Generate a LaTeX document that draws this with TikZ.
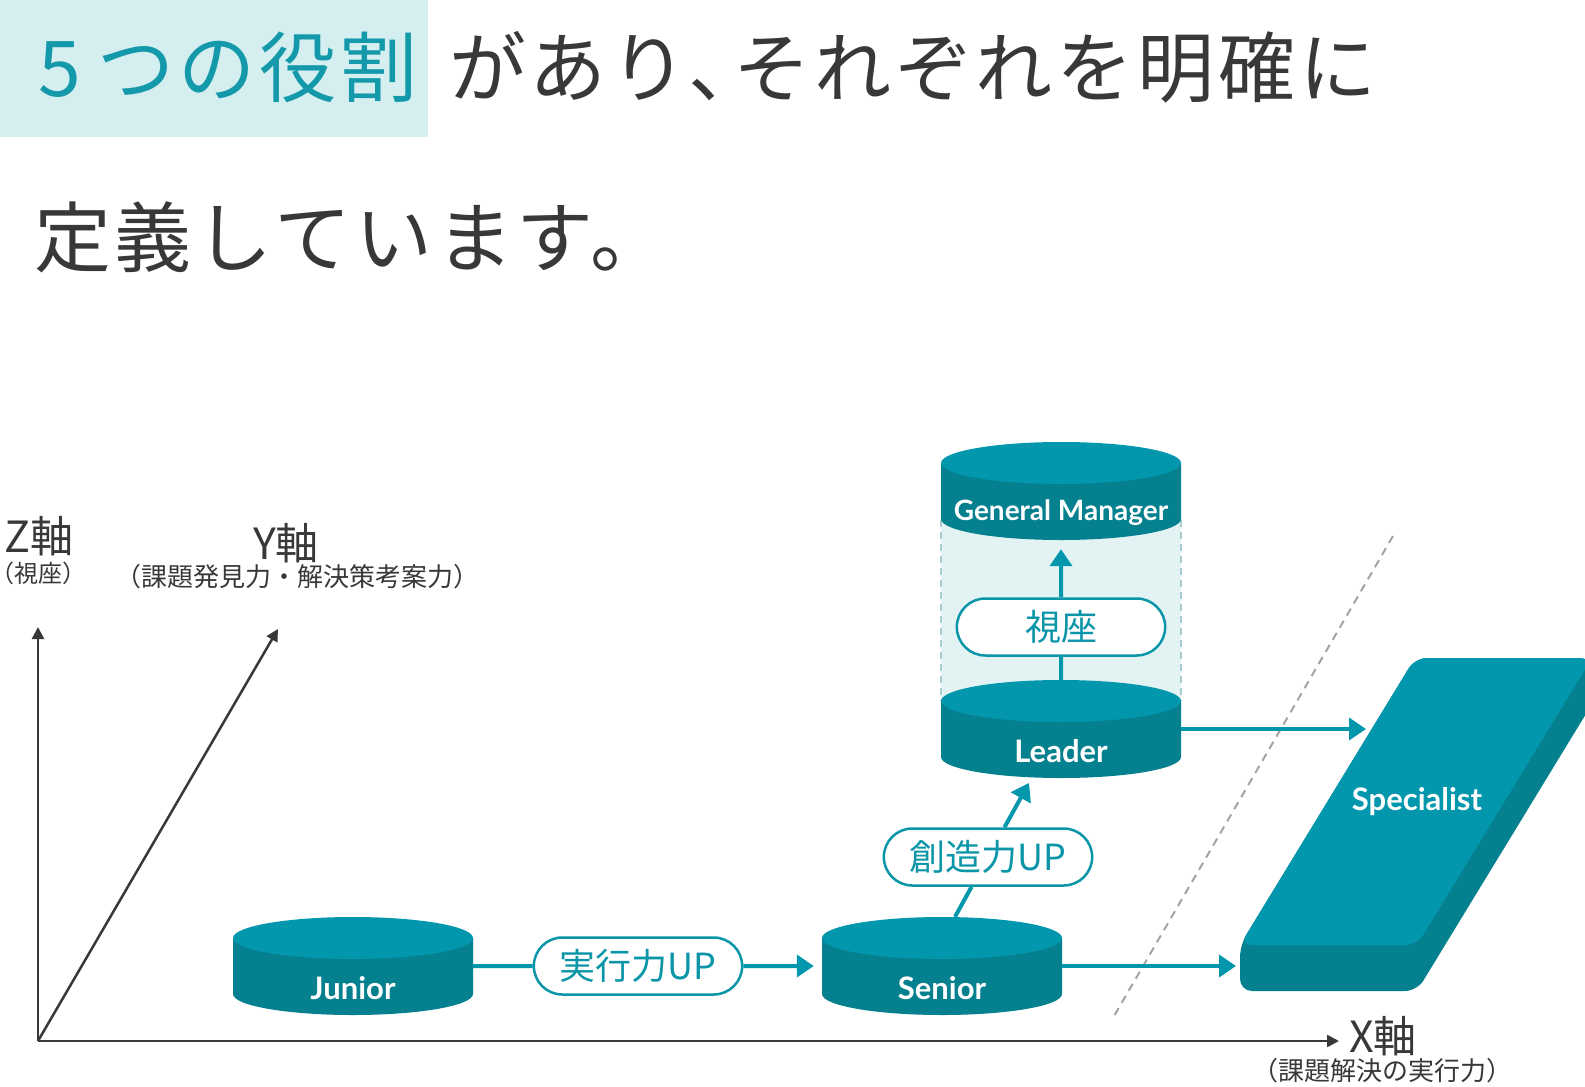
\documentclass[tikz,border=0pt]{standalone}
\usepackage{fontspec}
\setmainfont{Noto Sans CJK JP}
\newfontfamily\tierfont{Lato}
\newfontfamily\titlefont{Noto Sans CJK JP}[LetterSpace=5]
\usetikzlibrary{arrows.meta,shapes.misc,positioning}

\definecolor{tierTop}{HTML}{0397AD}
\definecolor{tierSide}{HTML}{04808F}
\definecolor{pillTeal}{HTML}{0A95A8}
\definecolor{titleTeal}{HTML}{1399AA}
\definecolor{inkGray}{HTML}{383838}
\definecolor{hiliteBg}{HTML}{D5EEF0}
\definecolor{columnBg}{HTML}{E3F3F4}
\definecolor{columnEdge}{HTML}{A8CDD1}
\definecolor{divGray}{HTML}{A3A3A3}

\tikzset{
	tiertop/.style={fill=tierTop},
	tierside/.style={fill=tierSide},
	tierbox/.style={minimum width=240pt, minimum height=98pt, inner sep=0pt},
	tierlabel/.style={text=white, inner sep=0pt, font=\tierfont\bfseries\fontsize{31}{31}\selectfont},
	pill/.style={rounded rectangle, draw=pillTeal, line width=2.5pt, fill=white, text=pillTeal,
		minimum width=215pt, minimum height=57pt, font=\fontsize{36}{36}\selectfont},
	flow/.style={draw=tierTop, line width=4pt, -{Triangle[length=17pt,width=22pt]}},
	axis/.style={draw=inkGray, line width=2.5pt, -{Triangle[length=12pt,width=12pt]}},
	axislabel/.style={text=inkGray, inner sep=0pt, font=\fontsize{43}{43}\selectfont},
	axisnote/.style={text=inkGray, inner sep=0pt, font=\fontsize{26}{26}\selectfont},
	titletext/.style={anchor=base west, inner sep=0pt, font=\titlefont\fontsize{77}{77}\selectfont},
}

% name, centre x, top y, label
\newcommand\drawtier[4]{%
	\fill[tierside] ({#2-120},#3) -- ({#2-120},{#3+56})
		arc[start angle=180, end angle=0, x radius=120, y radius=21] -- ({#2+120},#3) -- cycle;
	\fill[tiertop] (#2,#3) ellipse[x radius=120, y radius=21];
	\node[tierbox] (#1) at (#2,{#3+28}) {};
	\node[tierlabel] (#1-label) at (#2,{#3+50}) {#4};
}

\begin{document}
\begin{tikzpicture}[x=1pt, y=-1pt]
			\useasboundingbox (0,0) rectangle (1585,1087);
			\clip (0,0) rectangle (1585,1087);
			
			% Heading
			\fill[hiliteBg] (0,0) rectangle (428,137);
			\node[titletext, text=titleTeal] (title-lead) at (38,96) {5\hspace{0.22em}つの役割};
			\node[titletext, text=inkGray] (title-rest) at (449,96) {があり、\kern-0.42em それぞれを明確に};
			\node[titletext, text=inkGray] (title-second) at (34,266) {定義しています。};
			
			% Axes
			\coordinate (origin) at (38,1041);
			\coordinate (z-end) at (38,627);
			\coordinate (y-end) at (278,629);
			\coordinate (x-end) at (1339,1041);
			\draw[axis] (origin) -- (z-end);
			\draw[axis] (origin) -- (y-end);
			\draw[axis] (origin) -- (x-end);
			\node[axislabel] (z-label) at (39,536) {Z軸};
			\node[axisnote, font=\fontsize{24}{24}\selectfont] (z-note) at (44,573) {\kern-0.45em（視座）};
			\node[axislabel] (y-label) at (286,543) {Y軸};
			\node[axisnote] (y-note) at (297,577) {（課題発見力・解決策考案力）};
			\node[axislabel] (x-label) at (1383,1036) {X軸};
			\node[axisnote] (x-note) at (1382,1071) {（課題解決の実行力）};
			
			% Column between Leader and General Manager
			\fill[columnBg] (941,520) rectangle (1181,701);
			\draw[columnEdge, line width=2pt, dash pattern=on 7pt off 5pt] (941,520) -- (941,701);
			\draw[columnEdge, line width=2pt, dash pattern=on 7pt off 5pt] (1181,520) -- (1181,701);
			
			% Divider
			\coordinate (div-top) at (1393,536);
			\coordinate (div-bottom) at (1114,1016);
			\draw[divGray, line width=2pt, dash pattern=on 8pt off 6pt] (div-top) -- (div-bottom);
			
			% Tiers
			\drawtier{junior}{353}{938}{Junior}
			\drawtier{senior}{942}{938}{Senior}
			\drawtier{leader}{1061}{701}{Leader}
			\drawtier{gm}{1061}{463}{\fontsize{28}{28}\selectfont General Manager}
			
			% Specialist slab
			\fill[tierSide, rounded corners=12pt] (1415,658) -- (1592,658) -- (1592,704)
				-- (1417,991) -- (1240,991) -- (1240,945) -- cycle;
			\fill[tierTop, rounded corners=12pt] (1415,658) -- (1592,658) -- (1417,945) -- (1240,945) -- cycle;
			\node[tierlabel] (spec) at (1417,802) {Specialist};
			\coordinate (spec-front) at (1236,966);
			\coordinate (spec-side) at (1366,729);
			
			% Step labels
			\node[pill] (jikko) at (638,966) {実行力UP};
			\node[pill] (sozo) at (988,857) {創造力UP};
			\node[pill] (shiza) at (1061,627) {視座};
			
			% Connectors
			\coordinate (sozo-from) at ([xshift=13pt]senior.north);
			\coordinate (sozo-to) at (1029,783);
			\draw[flow, shorten >=8pt] (junior.east) -- (jikko) -- (senior.west);
			\draw[flow] (sozo-from) -- (sozo) -- (sozo-to);
			\draw[flow, shorten >=9pt] (leader.north) -- (shiza) -- (gm.south);
			\draw[flow] (senior.east) -- (senior.east -| spec-front);
			\draw[flow] (leader.east) -- (leader.east -| spec-side);
		\end{tikzpicture}
\end{document}
